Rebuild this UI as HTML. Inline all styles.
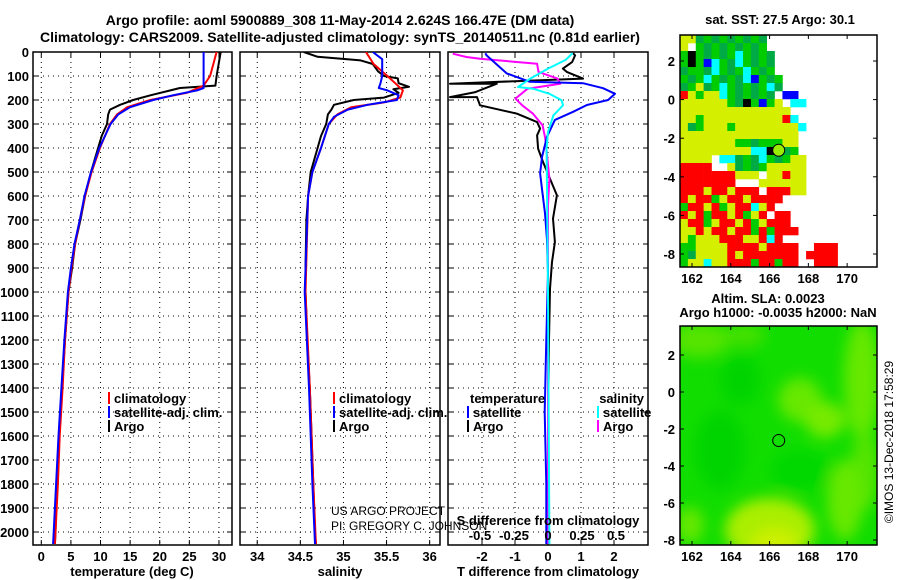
<!DOCTYPE html>
<html><head><meta charset="utf-8">
<style>
html,body{margin:0;padding:0;background:#fff;}
svg{display:block;font-family:"Liberation Sans",Arial,sans-serif;}
.b{font-weight:bold;font-size:13px;}
.t{font-weight:bold;font-size:14px;}
</style></head>
<body>
<svg id="fig" width="900" height="580" viewBox="0 0 900 580" xmlns="http://www.w3.org/2000/svg">
<defs>
<clipPath id="c1"><rect x="33" y="52" width="199" height="493"/></clipPath>
<clipPath id="c2"><rect x="240" y="52" width="200" height="493"/></clipPath>
<clipPath id="c3"><rect x="448" y="52" width="200" height="493"/></clipPath>
<clipPath id="cm2"><rect x="680" y="326" width="197" height="219"/></clipPath>
<filter id="blur" x="-20%" y="-20%" width="140%" height="140%"><feGaussianBlur stdDeviation="7"/></filter>
</defs>
<text x="340" y="25" text-anchor="middle" class="t">Argo profile: aoml 5900889_308 11-May-2014 2.624S 166.47E (DM data)</text>
<text x="340" y="42" text-anchor="middle" class="t">Climatology: CARS2009. Satellite-adjusted climatology: synTS_20140511.nc (0.81d earlier)</text>
<g id="g"></g>
</svg>
<script>
// ---- data ----
const tDepthArgo=[0,100,140,150,160,180,200,220,240,260,300,350,400,500,600,700,800,900,1000,1200,1400,1600,1800,2000,2050];
const tArgo=[30.3,29.6,29.4,23.4,21.8,18.5,15.5,13.3,11.6,11.3,11.1,10.2,9.6,8.4,7.4,6.6,5.7,5.2,4.6,4.0,3.5,3.0,2.6,2.4,2.3];
const tDepthClim=[0,100,140,170,200,230,260,300,400,500,600,700,800,900,1000,1200,1400,1600,1800,2000,2050];
const tClim=[29.6,28.5,27.4,24.6,18.4,14.5,12.8,11.6,9.9,8.5,7.4,6.5,5.7,5.1,4.6,4.0,3.6,3.1,2.8,2.4,2.3];
const tDepthSat=[0,150,160,180,200,230,260,300,400,500,600,700,800,900,1000,1200,1400,1600,1800,2000,2050];
const tSat=[27.4,27.4,26.3,22.3,18.9,15,13,11.7,9.8,8.4,7.3,6.5,5.6,5.0,4.5,3.9,3.4,2.9,2.5,2.1,2.0];

const sDepthArgo=[0,20,35,50,80,100,110,130,145,155,170,190,200,220,240,260,300,350,400,500,600,700,900,1000,1200,1400,1600,1800,2000,2050];
const sArgo=[34.54,34.70,35.2,35.34,35.40,35.47,35.63,35.64,35.76,35.58,35.64,35.47,35.12,34.89,34.86,34.82,34.80,34.74,34.70,34.62,34.59,34.57,34.56,34.56,34.58,34.61,34.63,34.65,34.67,34.68];
const sDepthClim=[0,50,100,130,160,190,210,230,260,300,400,500,600,1000,1400,1800,2050];
const sClim=[35.26,35.35,35.51,35.6,35.69,35.66,35.47,35.09,34.93,34.83,34.74,34.64,34.59,34.56,34.61,34.65,34.68];
const sDepthSat=[0,30,100,130,150,160,180,200,220,240,270,300,400,500,600,1000,1400,1800,2050];
const sSat=[35.34,35.45,35.45,35.43,35.41,35.51,35.64,35.62,35.28,35.05,34.89,34.83,34.74,34.64,34.59,34.55,34.60,34.64,34.67];

const dtDepthSat=[5,14,89,124,130,151,174,200,221,249,283,353,436,505,575,672,783,922,1200,1500,1800,2050];
const dtSat=[-1.9,-1.86,-1.25,-0.55,1.06,1.67,2.03,1.82,1.18,0.76,0.21,-0.03,-0.18,-0.24,-0.18,-0.09,-0.03,0,-0.05,-0.1,-0.05,-0.05];
const dtDepthArgo=[5,14,42,69,83,111,132,132,167,188,188,222,257,292,319,347,403,458,528,597,694,792,875,986,1200,1600,2000];
const dtArgo=[0.76,0.82,0.73,0.45,0.57,1.06,-2.97,-1.55,-2.2,-2.97,-2.15,-2.06,-0.94,-0.33,-0.24,-0.33,-0.3,-0.15,0.06,0.27,0.15,0.21,0.12,0.06,0.03,0,0];
const dsDepthArgo=[7,21,28,49,83,111,132,153,194,222,257,306,361,528,639,1000,2050];
const dsArgo=[-0.7,-0.6,-0.5,-0.08,-0.07,0.07,0.09,-0.15,-0.24,-0.19,-0.11,-0.04,-0.02,0.01,0,0,0];
const dsDepthSat=[5,33,69,111,146,153,174,201,222,264,333,400,1000,2050];
const dsSat=[0.18,0.13,0,-0.13,-0.22,-0.11,0.01,0.1,0.11,0.04,0,-0.01,0,0.01];

const depthTicks=[0,100,200,300,400,500,600,700,800,900,1000,1100,1200,1300,1400,1500,1600,1700,1800,1900,2000];
const tTicks=[0,5,10,15,20,25,30];
const sTicks=[34,34.5,35,35.5,36];
const dtTicks=[-2,-1,0,1,2];
const dsTickLabels=["-0.5","-0.25","0","0.25","0.5"];
const dsTicks=[-0.5,-0.25,0,0.25,0.5];
const lonTicks=[162,164,166,168,170];
const latTicks=[2,0,-2,-4,-6,-8];
const argoLon=166.47, argoLat=-2.624;
const sstGrid=[
"yyGgGgGgGgGwwwwwwwwwwwwww",
"ywgGgGgGgGgwwwwwwwwwwwwww",
"gkgGgGgcgGgGwwwwwwwwwwwww",
"gkgbcgGcgGgGwwwwwwwwwwwww",
"GggGcgGgcgGgwwwwwwwwwwwww",
"gGgcgGgGcbgGgwwwwwwwwwwww",
"GgyGgcgGgGgcGwwwwwwwwwwww",
"rygyycgGgGgGwbbwwwwwwwwww",
"yyyyyygGkgbgywccwwwwwwwww",
"yyyyyyyyyyyyyywwwwwwwwwww",
"yygyyyyyyyyyyrcwwwwwwwwww",
"yGgyyygyyyyyyyycwwwwwwwww",
"yyyyyyyyyyyyyyywwwwwwwwww",
"yyyyyyyggGgggyywwwwwwwwww",
"yyyyyyyyycckbGgwwwwwwwwww",
"yyyywccGgGcgGgyywwwwwwwww",
"rrrrwwyGgGgyyyyywwwwwwwww",
"rrrrrrryyywyyryywwwwwwwww",
"rrrrrrrwwwyyyyyywwwwwwwww",
"rrryrryrrrwrrryywwwwwwwww",
"ryrrgyrryrrrrwwwwwwwwwwww",
"grryrgyrrcyrwwwwwwwwwwwww",
"ryrgrryrgyrwrrwwwwwwwwwww",
"yrrgyrryrgyrrrwwwwwwwwwww",
"yyryrryrrgrgrrrwwwwwwwwww",
"ygyyyrrryyrcrwwwwwwwwwwww",
"ggyyyyrrrryrrrrwwrrrwwwww",
"gGyyyyryrrrrrrrwrrrrwwwww",
"gyycyyrrrgrrgrrwwrrrwwwww"];

// ---- helpers ----
const NS="http://www.w3.org/2000/svg";
const G=document.getElementById('g');
function el(tag,attrs,parent){const e=document.createElementNS(NS,tag);for(const k in attrs)e.setAttribute(k,attrs[k]);(parent||G).appendChild(e);return e;}
const Y0=52, PY=0.24;
const yD=d=>Y0+d*PY;
const panels=[
 {x0:33,x1:232,vmin:-1.4,vmax:32.2,clip:'c1',name:'temperature'},
 {x0:240,x1:440,vmin:33.8,vmax:36.12,clip:'c2',name:'salinity'},
 {x0:448,x1:648,vmin:-3.03,vmax:3.03,clip:'c3',name:'difference'}];
function xf(p,v){return p.x0+(v-p.vmin)/(p.vmax-p.vmin)*(p.x1-p.x0);}
const xS=v=>548+v*136;
const YB=545;

// grids and frames
panels.forEach((p,i)=>{
  const ticks=[tTicks,sTicks,dtTicks][i];
  const g=el('g',{});
  
  
  depthTicks.forEach(d=>{
    const l=el('line',{x1:p.x0,x2:p.x1,y1:yD(d),y2:yD(d),stroke:'#000','stroke-width':1,'stroke-dasharray':'1 4'},g);
    
    
    el('line',{x1:p.x0,x2:p.x0+5,y1:yD(d),y2:yD(d),stroke:'#000'},g);
    el('line',{x1:p.x1-5,x2:p.x1,y1:yD(d),y2:yD(d),stroke:'#000'},g);
  });
  ticks.forEach(v=>{
    const x=xf(p,v);
    const l=el('line',{x1:x,x2:x,y1:Y0,y2:YB,stroke:'#000','stroke-dasharray':'1 4'},g);
    
    
    el('line',{x1:x,x2:x,y1:YB-5,y2:YB,stroke:'#000'},g);
    el('line',{x1:x,x2:x,y1:Y0,y2:Y0+5,stroke:'#000'},g);
    const t=el('text',{x:x,y:561,'text-anchor':'middle',class:'b'},g);
    t.textContent=String(v);
    
    
  });
  const r=el('rect',{x:p.x0,y:Y0,width:p.x1-p.x0,height:YB-Y0,fill:'none',stroke:'#000','stroke-width':1.5},g);
  
  
});
depthTicks.forEach(d=>{
  const t=el('text',{x:29,y:yD(d)+5,'text-anchor':'end',class:'b'});
  t.textContent=String(d);
  
  
});
const xl=[['temperature (deg C)',132],['salinity',340],['T difference from climatology',548]];
xl.forEach(a=>{const t=el('text',{x:a[1],y:576,'text-anchor':'middle',class:'b'});t.textContent=a[0];
  
  });

function line(depths,vals,fx,color,clip,name){
  const pts=depths.map((d,i)=>fx(vals[i]).toFixed(1)+','+yD(d).toFixed(1)).join(' ');
  const pl=el('polyline',{points:pts,fill:'none',stroke:color,'stroke-width':2,'stroke-linejoin':'round','clip-path':'url(#'+clip+')'});
  
  
}
const P=panels;
line(tDepthArgo,tArgo,v=>xf(P[0],v),'#000','c1','temperature-argo-line');
line(tDepthClim,tClim,v=>xf(P[0],v),'#f00','c1','temperature-climatology-line');
line(tDepthSat,tSat,v=>xf(P[0],v),'#00f','c1','temperature-satellite-line');
line(sDepthArgo,sArgo,v=>xf(P[1],v),'#000','c2','salinity-argo-line');
line(sDepthClim,sClim,v=>xf(P[1],v),'#f00','c2','salinity-climatology-line');
line(sDepthSat,sSat,v=>xf(P[1],v),'#00f','c2','salinity-satellite-line');
line(dtDepthArgo,dtArgo,v=>xf(P[2],v),'#000','c3','t-diff-argo-line');
line(dsDepthArgo,dsArgo,xS,'#f0f','c3','s-diff-argo-line');
line(dtDepthSat,dtSat,v=>xf(P[2],v),'#00f','c3','t-diff-satellite-line');
line(dsDepthSat,dsSat,xS,'#0ff','c3','s-diff-satellite-line');

// S diff axis labels inside panel 3
const st=el('text',{x:548,y:525,'text-anchor':'middle',class:'b'});st.textContent='S difference from climatology';


dsTicks.forEach((v,i)=>{const t=el('text',{x:xS(v),y:540,'text-anchor':'middle',class:'b'});t.textContent=dsTickLabels[i];
  
  });
const c1=el('text',{x:331,y:515,'font-size':12});c1.textContent='US ARGO PROJECT';


const c2=el('text',{x:331,y:530,'font-size':12});c2.textContent='PI: GREGORY C. JOHNSON';



// legends
function leg(x,y,color,label){
  const g=el('g',{});
  
  
  el('rect',{x:x,y:y-11,width:2,height:12,fill:color},g);
  const t=el('text',{x:x+6,y:y,class:'b'},g);t.textContent=label;
}
[[108,'climatology','#f00'],[108,'satellite-adj. clim.','#00f'],[108,'Argo','#000']].forEach((a,i)=>leg(a[0],403+i*14,a[2],a[1]));
[[333,'climatology','#f00'],[333,'satellite-adj. clim.','#00f'],[333,'Argo','#000']].forEach((a,i)=>leg(a[0],403+i*14,a[2],a[1]));
const th=el('text',{x:470,y:403,class:'b'});th.textContent='temperature';


const sh=el('text',{x:644,y:403,'text-anchor':'end',class:'b'});sh.textContent='salinity';


leg(467,417,'#00f','satellite');leg(467,431,'#000','Argo');
leg(597,417,'#0ff','satellite');leg(597,431,'#f0f','Argo');

// ---- map 1 (SST) ----
const M={x0:680,x1:877,lon0:161.38,lon1:171.54};
const lonX=v=>M.x0+(v-M.lon0)/(M.lon1-M.lon0)*(M.x1-M.x0);
const m1lat=v=>61+(2-v)*19.3;
const m2lat=v=>355+(2-v)*18.5;
const colors={g:'#00cc00',G:'#00aa44',y:'#d4f000',r:'#ff0000',c:'#00ffff',b:'#0000ff',k:'#000000',w:'#ffffff'};
const mg=el('g',{});


const cw=(M.x1-M.x0)/25, ch=8;
sstGrid.forEach((row,ri)=>{
  for(let ci=0;ci<row.length;ci++){
    const c=row[ci]; if(c==='w')continue;
    el('rect',{x:(M.x0+ci*cw).toFixed(2),y:35+ri*ch,width:(cw+0.3).toFixed(2),height:ch+0.3,fill:colors[c]},mg);
  }
});
const ac1=el('circle',{cx:lonX(argoLon),cy:m1lat(argoLat),r:6,fill:'#99ee00',stroke:'#000','stroke-width':1});



// ---- map 2 (SLA) ----
const m2=el('g',{'clip-path':'url(#cm2)'});


el('rect',{x:680,y:326,width:197,height:219,fill:'#11dd00'},m2);
const bg=el('g',{filter:'url(#blur)'},m2);
[[700,340,30,18,'#55e400'],[745,335,20,12,'#44e000'],[800,400,22,22,'#66e800'],[825,420,20,18,'#77ea00'],
 [862,380,18,60,'#66e800'],[865,470,14,40,'#55e400'],[845,500,18,40,'#66e800'],[770,530,45,32,'#aaee00'],
 [775,548,25,20,'#ccf000'],[690,525,14,18,'#66e800'],[720,450,25,40,'#00d400'],[800,470,30,20,'#00d800'],
 [740,380,20,25,'#00d400']].forEach(e=>el('ellipse',{cx:e[0],cy:e[1],rx:e[2],ry:e[3],fill:e[4]},bg));
const ac2=el('circle',{cx:lonX(argoLon),cy:m2lat(argoLat),r:6,fill:'none',stroke:'#000','stroke-width':1});



// map frames & ticks
[[35,267,m1lat],[326,545,m2lat]].forEach((m,mi)=>{
  const r=el('rect',{x:M.x0,y:m[0],width:M.x1-M.x0,height:m[1]-m[0],fill:'none',stroke:'#000','stroke-width':1.5});
  
  
  lonTicks.forEach(v=>{const x=lonX(v);
    el('line',{x1:x,x2:x,y1:m[0],y2:m[0]+4,stroke:'#000'});
    el('line',{x1:x,x2:x,y1:m[1]-4,y2:m[1],stroke:'#000'});
    const t=el('text',{x:x,y:m[1]+16,'text-anchor':'middle',class:'b'});t.textContent=String(v);
    
    });
  latTicks.forEach(v=>{const y=m[2](v);
    el('line',{x1:M.x0,x2:M.x0+4,y1:y,y2:y,stroke:'#000'});
    el('line',{x1:M.x1-4,x2:M.x1,y1:y,y2:y,stroke:'#000'});
    const t=el('text',{x:675,y:y+5,'text-anchor':'end',class:'b'});t.textContent=String(v);
    
    });
});
[['sat. SST: 27.5 Argo: 30.1',780,24],['Altim. SLA: 0.0023',768,303],['Argo h1000: -0.0035 h2000: NaN',778,317]].forEach(a=>{
  const t=el('text',{x:a[1],y:a[2],'text-anchor':'middle',class:'b'});t.textContent=a[0];
  
  });
const cr=el('text',{x:0,y:0,'font-size':12,transform:'translate(893,442) rotate(-90)','text-anchor':'middle'});
cr.textContent='©IMOS 13-Dec-2018 17:58:29';


</script>
</body></html>
